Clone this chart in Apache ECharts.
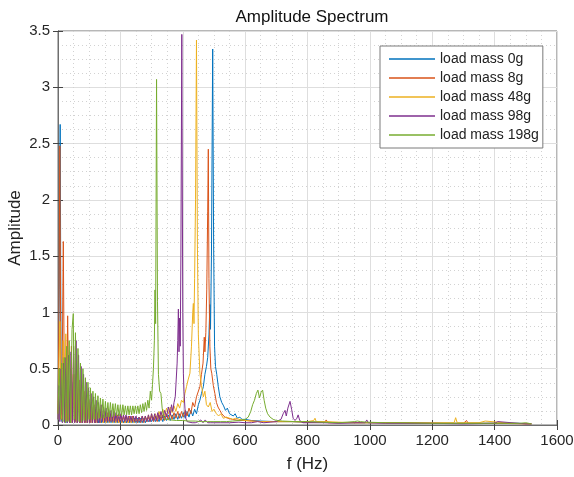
<!DOCTYPE html>
<html>
<head>
<meta charset="utf-8">
<script src="https://cdn.jsdelivr.net/npm/echarts@6/dist/echarts.min.js"></script>
<style>
    html, body { margin: 0; padding: 0; background: #fff; }
    #chart { width: 574px; height: 477px; }
</style>
</head>
<body>
<div id="chart"></div>
<script type="text/javascript">
    // 图例名称
    var seriesNames = ["load mass 0g", "load mass 8g", "load mass 48g", "load mass 98g", "load mass 198g"];
    var xTicks = [0, 200, 400, 600, 800, 1000, 1200, 1400, 1600];
    var yTicks = [0, 0.5, 1, 1.5, 2, 2.5, 3, 3.5];

    // [f(Hz), amplitude] 从图上读出
    var mass0 = [[0,0.05],[4,1.2],[7,2.67],[10,0.4],[13,0.03],[17,0.6],[21,0.03],[25,0.5],[29,0.02],[33,0.55],[37,0.02],[41,0.45],[45,0.02],[49,0.38],[53,0.02],[57,0.33],[61,0.02],[65,0.28],[69,0.02],[73,0.24],[77,0.02],[81,0.2],[85,0.02],[89,0.17],[93,0.02],[97,0.15],[101,0.02],[105,0.13],[110,0.02],[115,0.12],[120,0.02],[125,0.11],[130,0.02],[135,0.1],[140,0.02],[145,0.09],[150,0.02],[155,0.08],[160,0.02],[165,0.08],[170,0.02],[175,0.07],[180,0.02],[185,0.07],[190,0.02],[195,0.07],[200,0.02],[205,0.06],[210,0.02],[215,0.06],[220,0.02],[225,0.06],[230,0.02],[235,0.06],[240,0.02],[245,0.06],[250,0.02],[255,0.06],[260,0.02],[265,0.06],[270,0.02],[275,0.06],[280,0.02],[285,0.06],[290,0.03],[295,0.06],[300,0.03],[306,0.07],[312,0.03],[318,0.07],[324,0.03],[330,0.08],[336,0.03],[342,0.08],[348,0.04],[354,0.09],[360,0.04],[366,0.09],[372,0.05],[378,0.1],[384,0.05],[390,0.1],[396,0.06],[402,0.11],[408,0.06],[414,0.12],[420,0.07],[426,0.13],[432,0.08],[438,0.14],[444,0.1],[450,0.18],[455,0.22],[460,0.28],[466,0.34],[471,0.45],[476,0.52],[480,0.6],[484,0.8],[487,1.07],[489,0.85],[492,1.5],[496,3.34],[499,1.6],[502,0.7],[505,0.52],[509,0.45],[514,0.34],[519,0.25],[525,0.2],[531,0.17],[537,0.13],[543,0.15],[550,0.1],[556,0.09],[562,0.08],[568,0.1],[575,0.06],[583,0.07],[590,0.05],[600,0.05],[620,0.04],[650,0.035],[700,0.03],[750,0.03],[800,0.025],[850,0.025],[900,0.02],[1000,0.02],[1100,0.02],[1200,0.015],[1300,0.015],[1400,0.015],[1465,0.015],[1470,0.03],[1475,0.015],[1518,0.01]];

    var mass8 = [[0,0.1],[3,1.0],[6,2.48],[9,0.5],[12,0.05],[17,1.63],[21,0.05],[24,0.2],[27,0.04],[31,0.97],[35,0.04],[39,0.3],[40,0.03],[43,0.7],[47,0.03],[51,0.45],[55,0.03],[59,0.5],[63,0.03],[67,0.4],[71,0.02],[75,0.35],[79,0.02],[83,0.3],[87,0.02],[91,0.26],[95,0.02],[99,0.22],[103,0.02],[107,0.2],[111,0.02],[115,0.18],[119,0.02],[123,0.16],[127,0.02],[131,0.14],[135,0.02],[140,0.13],[145,0.02],[150,0.12],[155,0.02],[160,0.11],[165,0.02],[170,0.1],[175,0.02],[180,0.1],[185,0.02],[190,0.09],[195,0.02],[200,0.09],[205,0.02],[210,0.08],[215,0.02],[220,0.08],[225,0.02],[230,0.08],[235,0.02],[240,0.08],[245,0.02],[250,0.07],[255,0.02],[260,0.07],[265,0.02],[270,0.07],[275,0.02],[280,0.07],[285,0.03],[290,0.07],[295,0.03],[300,0.08],[306,0.03],[312,0.08],[318,0.03],[324,0.09],[330,0.04],[336,0.09],[342,0.04],[348,0.1],[354,0.05],[360,0.1],[366,0.05],[372,0.11],[378,0.06],[384,0.12],[390,0.06],[396,0.12],[402,0.07],[408,0.13],[414,0.08],[420,0.15],[426,0.1],[432,0.2],[438,0.16],[444,0.25],[450,0.3],[455,0.34],[460,0.45],[465,0.55],[469,0.78],[471,0.65],[474,0.82],[477,1.2],[480,1.9],[482,2.45],[484,1.3],[487,0.7],[490,0.5],[493,0.46],[498,0.35],[503,0.28],[508,0.2],[513,0.16],[519,0.13],[525,0.1],[535,0.07],[545,0.06],[560,0.05],[580,0.04],[600,0.04],[650,0.03],[700,0.03],[750,0.03],[800,0.025],[855,0.025],[860,0.045],[866,0.02],[900,0.02],[1000,0.02],[1100,0.02],[1200,0.015],[1300,0.015],[1310,0.04],[1315,0.015],[1400,0.015],[1518,0.01]];

    var mass48 = [[0,0.05],[3,0.5],[6,0.92],[9,0.1],[13,0.05],[17,0.75],[21,0.04],[25,0.81],[29,0.03],[33,0.55],[37,0.02],[41,0.5],[45,0.02],[49,0.45],[53,0.02],[57,0.4],[61,0.02],[65,0.35],[69,0.02],[73,0.3],[77,0.02],[81,0.25],[85,0.02],[89,0.22],[93,0.02],[97,0.2],[101,0.02],[105,0.18],[109,0.02],[113,0.16],[117,0.02],[121,0.14],[125,0.02],[130,0.13],[135,0.02],[140,0.12],[145,0.02],[150,0.11],[155,0.02],[160,0.1],[165,0.02],[170,0.09],[175,0.02],[180,0.09],[185,0.02],[190,0.08],[195,0.02],[200,0.08],[205,0.02],[210,0.08],[215,0.02],[220,0.07],[225,0.02],[230,0.07],[235,0.02],[240,0.07],[245,0.02],[250,0.07],[255,0.03],[260,0.07],[265,0.03],[270,0.08],[275,0.03],[280,0.08],[285,0.03],[290,0.09],[295,0.04],[300,0.1],[306,0.05],[312,0.1],[318,0.06],[324,0.12],[330,0.07],[336,0.14],[342,0.08],[348,0.15],[354,0.1],[360,0.16],[366,0.11],[372,0.17],[378,0.12],[384,0.19],[390,0.15],[396,0.22],[402,0.2],[407,0.28],[412,0.34],[417,0.4],[423,0.46],[428,0.7],[432,1.0],[434,1.08],[436,0.9],[438,1.3],[441,2.0],[444,3.42],[447,1.6],[450,0.8],[455,0.46],[460,0.35],[466,0.25],[471,0.3],[476,0.18],[482,0.16],[488,0.2],[494,0.12],[500,0.14],[508,0.1],[515,0.08],[522,0.1],[530,0.06],[540,0.07],[550,0.06],[560,0.05],[570,0.06],[580,0.05],[600,0.04],[620,0.035],[650,0.03],[700,0.03],[750,0.03],[800,0.03],[820,0.04],[824,0.06],[828,0.03],[860,0.03],[900,0.025],[950,0.02],[1000,0.02],[1100,0.02],[1200,0.02],[1270,0.02],[1275,0.065],[1280,0.02],[1350,0.02],[1370,0.035],[1375,0.02],[1450,0.015],[1518,0.01]];

    var mass98 = [[0,0.05],[3,0.35],[6,0.03],[10,0.5],[14,0.02],[18,0.55],[22,0.02],[26,0.6],[30,0.02],[34,0.62],[38,0.02],[42,0.65],[46,0.02],[50,0.7],[54,0.02],[58,0.75],[62,0.02],[66,0.62],[70,0.02],[74,0.52],[78,0.02],[82,0.45],[86,0.02],[90,0.38],[94,0.02],[98,0.33],[102,0.02],[106,0.28],[110,0.02],[114,0.25],[118,0.02],[122,0.22],[126,0.02],[130,0.2],[134,0.02],[138,0.18],[142,0.03],[146,0.16],[150,0.03],[154,0.15],[158,0.03],[162,0.14],[166,0.03],[170,0.13],[174,0.03],[178,0.12],[182,0.03],[186,0.11],[190,0.03],[194,0.1],[198,0.03],[202,0.1],[206,0.03],[210,0.09],[214,0.03],[218,0.09],[222,0.03],[226,0.08],[230,0.03],[234,0.08],[238,0.03],[242,0.08],[246,0.03],[250,0.08],[255,0.03],[260,0.07],[265,0.03],[270,0.08],[275,0.03],[280,0.08],[285,0.03],[290,0.09],[295,0.03],[300,0.1],[305,0.04],[310,0.1],[315,0.04],[320,0.11],[325,0.05],[330,0.12],[336,0.06],[342,0.13],[348,0.07],[354,0.16],[360,0.09],[364,0.18],[368,0.12],[372,0.2],[376,0.25],[379,0.4],[382,0.55],[384,0.75],[386,1.03],[388,0.65],[390,0.95],[392,0.7],[394,1.5],[397,3.47],[400,1.0],[402,0.46],[404,0.3],[407,0.15],[410,0.06],[414,0.03],[420,0.02],[430,0.02],[440,0.02],[450,0.03],[458,0.045],[465,0.02],[472,0.045],[480,0.02],[490,0.02],[500,0.02],[520,0.02],[550,0.02],[580,0.025],[600,0.02],[620,0.02],[640,0.03],[660,0.02],[680,0.025],[700,0.03],[715,0.05],[722,0.1],[728,0.13],[732,0.08],[737,0.15],[744,0.21],[749,0.14],[754,0.06],[760,0.04],[766,0.06],[770,0.09],[775,0.04],[785,0.02],[800,0.02],[850,0.02],[900,0.015],[950,0.02],[985,0.02],[990,0.045],[995,0.02],[1050,0.015],[1100,0.015],[1200,0.015],[1300,0.01],[1400,0.015],[1410,0.03],[1415,0.015],[1500,0.01],[1518,0.01]];

    var mass198 = [[0,0.1],[4,0.5],[8,0.05],[12,0.55],[16,0.03],[20,0.6],[24,0.02],[28,0.7],[32,0.03],[36,0.75],[40,0.02],[45,0.85],[49,0.99],[52,0.05],[56,0.82],[60,0.04],[64,0.68],[68,0.03],[72,0.55],[76,0.03],[80,0.5],[84,0.04],[88,0.42],[92,0.04],[96,0.38],[100,0.05],[104,0.33],[108,0.05],[112,0.3],[116,0.05],[120,0.28],[124,0.05],[128,0.26],[132,0.06],[136,0.24],[140,0.06],[144,0.23],[148,0.06],[152,0.21],[156,0.07],[160,0.2],[164,0.07],[168,0.2],[172,0.07],[176,0.19],[180,0.08],[184,0.19],[188,0.08],[192,0.18],[196,0.08],[200,0.18],[204,0.08],[208,0.18],[212,0.09],[216,0.17],[220,0.09],[224,0.17],[228,0.09],[232,0.17],[236,0.09],[240,0.17],[244,0.1],[248,0.17],[252,0.1],[256,0.17],[260,0.1],[264,0.18],[268,0.11],[272,0.19],[276,0.12],[280,0.2],[284,0.13],[288,0.22],[292,0.15],[296,0.3],[300,0.22],[303,0.36],[306,0.5],[309,0.75],[311,1.2],[313,0.9],[316,3.07],[319,1.1],[322,0.45],[326,0.3],[330,0.28],[334,0.15],[338,0.08],[345,0.05],[360,0.045],[380,0.04],[400,0.04],[420,0.035],[440,0.035],[460,0.03],[480,0.03],[500,0.03],[520,0.03],[540,0.03],[560,0.035],[580,0.04],[600,0.05],[610,0.07],[618,0.12],[624,0.18],[630,0.22],[636,0.28],[641,0.31],[646,0.24],[651,0.29],[656,0.31],[661,0.22],[666,0.15],[672,0.1],[680,0.07],[690,0.05],[700,0.04],[720,0.035],[760,0.03],[800,0.03],[850,0.025],[900,0.02],[950,0.03],[960,0.035],[970,0.03],[990,0.025],[1050,0.02],[1100,0.02],[1200,0.015],[1300,0.015],[1400,0.015],[1480,0.015],[1500,0.02],[1518,0.01]];

    var allData = [mass0, mass8, mass48, mass98, mass198];
    var colors = ["#0072BD", "#D95319", "#EDB120", "#7E2F8E", "#77AC30"];
    var font = 'Arial, "Liberation Sans", Helvetica, sans-serif';

    var series = [];
    for (var i = 0; i < seriesNames.length; i++) {
        series.push({
            name: seriesNames[i],
            type: "line",
            data: allData[i],
            symbol: "none",
            sampling: null,
            color: colors[i],
            lineStyle: { width: 1, color: colors[i] },
            xAxisIndex: 0,
            yAxisIndex: 0,
            z: 2 + i
        });
    }

    function plainLabel(v) {
        return String(v);
    }

    var myChart = echarts.init(document.getElementById('chart'), null, { renderer: 'canvas' });
    myChart.setOption({
        animation: false,
        backgroundColor: "#fff",
        title: {
            text: "Amplitude Spectrum",
            left: 307,
            textAlign: "center",
            top: 4,
            textStyle: { color: "#111", fontSize: 17, fontWeight: "normal", fontFamily: font }
        },
        legend: {
            data: seriesNames,
            orient: "vertical",
            left: 380,
            top: 46,
            icon: "rect",
            itemWidth: 46,
            itemHeight: 1.5,
            itemGap: 3,
            padding: [5, 4, 5, 9],
            backgroundColor: "#fff",
            borderColor: "#7a7a7a",
            borderWidth: 1,
            selectedMode: false,
            textStyle: { color: "#222", fontSize: 14, fontFamily: font, lineHeight: 16 }
        },
        grid: {
            left: 58,
            top: 31,
            right: 17,
            bottom: 52,
            containLabel: false,
            outerBoundsMode: "none",
            show: true,
            borderColor: "#6e6e6e",
            borderWidth: 1
        },
        xAxis: [
            {
                type: "value",
                min: xTicks[0],
                max: xTicks[xTicks.length - 1],
                interval: 200,
                name: "f (Hz)",
                nameLocation: "middle",
                nameGap: 31,
                nameMoveOverlap: false,
                nameTextStyle: { color: "#222", fontSize: 17, fontFamily: font },
                axisLine: { show: true, onZero: false, lineStyle: { color: "#6e6e6e" } },
                axisTick: { show: true, inside: true, length: 5, lineStyle: { color: "#444" } },
                axisLabel: { color: "#262626", fontSize: 15, fontFamily: font, margin: 8, formatter: plainLabel },
                splitLine: { show: true, lineStyle: { color: "#dedede", width: 1 } },
                minorTick: { show: false, splitNumber: 4 },
                minorSplitLine: { show: true, lineStyle: { color: "#d2d2d2", type: [1, 3], width: 1 } }
            },
            {
                type: "value",
                position: "top",
                min: xTicks[0],
                max: xTicks[xTicks.length - 1],
                interval: 200,
                axisLine: { show: true, lineStyle: { color: "#6e6e6e" } },
                axisTick: { show: true, inside: true, length: 5, lineStyle: { color: "#444" } },
                axisLabel: { show: false },
                splitLine: { show: false }
            }
        ],
        yAxis: [
            {
                type: "value",
                min: yTicks[0],
                max: yTicks[yTicks.length - 1],
                interval: 0.5,
                name: "Amplitude",
                nameLocation: "middle",
                nameGap: 34,
                nameMoveOverlap: false,
                nameTextStyle: { color: "#222", fontSize: 17, fontFamily: font },
                axisLine: { show: true, onZero: false, lineStyle: { color: "#6e6e6e" } },
                axisTick: { show: true, inside: true, length: 5, lineStyle: { color: "#444" } },
                axisLabel: { color: "#262626", fontSize: 15, fontFamily: font, margin: 8, formatter: plainLabel },
                splitLine: { show: true, lineStyle: { color: "#dedede", width: 1 } },
                minorTick: { show: false, splitNumber: 4 },
                minorSplitLine: { show: true, lineStyle: { color: "#d2d2d2", type: [1, 3], width: 1 } }
            },
            {
                type: "value",
                position: "right",
                min: yTicks[0],
                max: yTicks[yTicks.length - 1],
                interval: 0.5,
                axisLine: { show: true, lineStyle: { color: "#6e6e6e" } },
                axisTick: { show: true, inside: true, length: 5, lineStyle: { color: "#444" } },
                axisLabel: { show: false },
                splitLine: { show: false }
            }
        ],
        series: series
    });
</script>
</body>
</html>
